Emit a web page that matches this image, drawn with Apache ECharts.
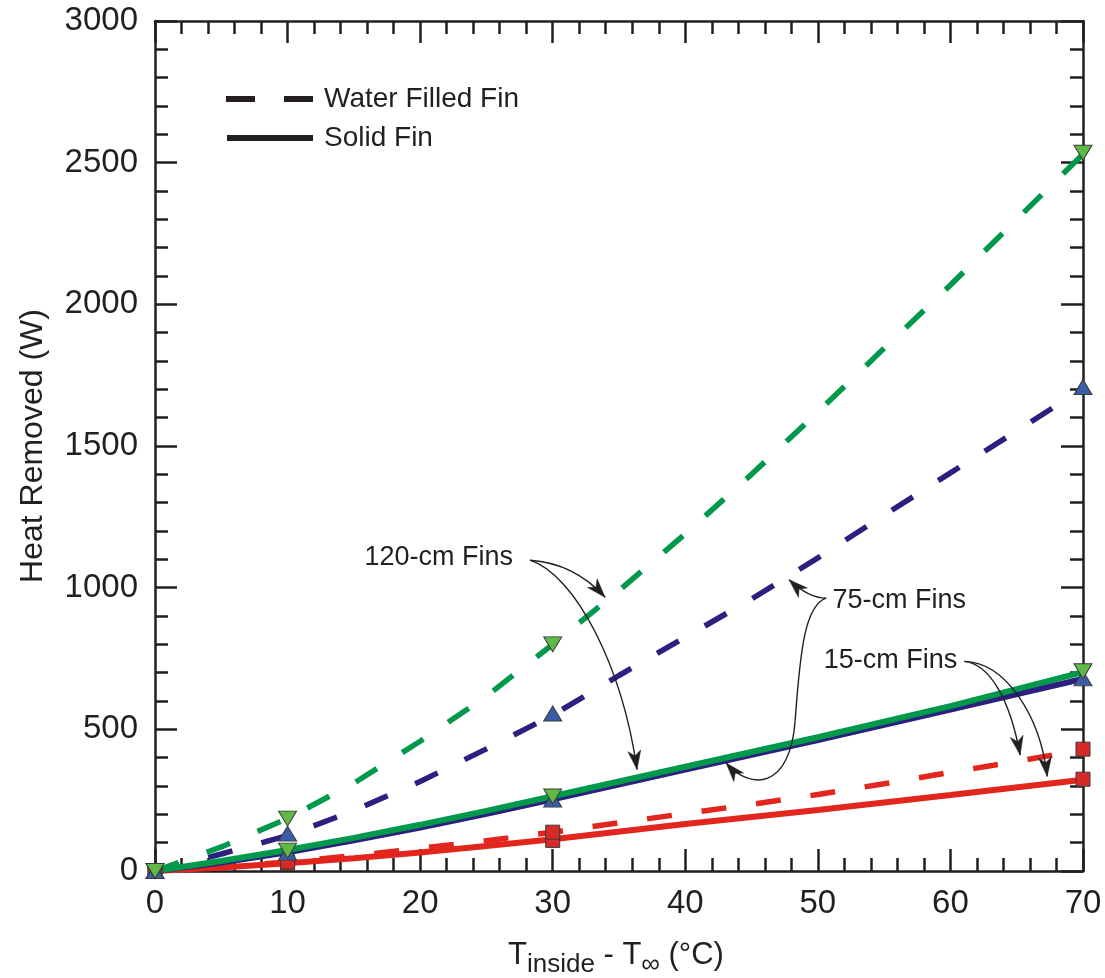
<!DOCTYPE html>
<html><head><meta charset="utf-8">
<script src="https://cdn.jsdelivr.net/npm/echarts@6/dist/echarts.min.js"></script>
<style>html,body{margin:0;padding:0;background:#fff}#c{width:1105px;height:978px}</style>
</head><body><div id="c"></div>
<script>
// ---- data ----
const tempX    = [0,5,10,15,20,25,30,35,40,45,50,55,60,65,70];
const water120 = [0,85,185,310,458,617,800,990,1190,1400,1620,1845,2068,2300,2530];
const water75  = [0,60,125,213,316,431,550,690,825,960,1105,1256,1405,1553,1703];
const water15  = [0,14,32,54,80,107,137,170,203,235,270,308,348,387,428];
const solidX   = [0,5,10,15,20,25,30,40,50,60,70];
const solid120 = [0,35,74,117,163,212,264,368,472,582,702];
const solid75  = [0,30,66,108,153,202,253,358,462,570,678];
const solid15  = [0,12,27,45,65,88,112,166,215,268,322];
const markerX   = [0,10,30,70];
const mWater120 = [0,185,800,2535];
const mWater75  = [0,132,556,1708];
const mWater15  = [0,32,137,430];
const mSolid120 = [0,72,263,705];
const mSolid75  = [0,65,252,680];
const mSolid15  = [0,27,108,324];
const legendLabels = ['Water Filled Fin','Solid Fin'];
const annoLabels = ['120-cm Fins','75-cm Fins','15-cm Fins'];

// ---- style ----
const FONT = '"Liberation Sans", Arial, Helvetica, sans-serif';
const INK = '#231f20';
const GREEN = '#00994c', NAVY = '#2b1f7f', RED = '#e2261d';
const GREEN_M = '#5fb946', BLUE_M = '#3b5ca6', RED_M = '#d62a28';
const DASH = [25, 30];

const pairs = (xs, ys) => xs.map((x, i) => [x, ys[i]]);
const plain = v => String(v);

function xAxisDef(pos, showLabel) {
  return {
    type: 'value', position: pos, min: 0, max: 70, interval: 10,
    axisLine: { onZero: false, lineStyle: { color: INK, width: 2.5 } },
    axisTick: { inside: true, length: 22, lineStyle: { color: INK, width: 2.5 } },
    minorTick: { show: true, splitNumber: 5, length: 13, lineStyle: { color: INK, width: 2.5 } },
    splitLine: { show: false }, minorSplitLine: { show: false },
    axisLabel: { show: showLabel, fontSize: 33, color: INK, fontFamily: FONT, margin: 16, formatter: plain }
  };
}
function yAxisDef(pos, showLabel) {
  const a = {
    type: 'value', position: pos, min: 0, max: 3000, interval: 500,
    axisLine: { onZero: false, lineStyle: { color: INK, width: 2.5 } },
    axisTick: { inside: true, length: 22, lineStyle: { color: INK, width: 2.5 } },
    minorTick: { show: true, splitNumber: 5, length: 13, lineStyle: { color: INK, width: 2.5 } },
    splitLine: { show: false }, minorSplitLine: { show: false },
    axisLabel: { show: showLabel, fontSize: 33, color: INK, fontFamily: FONT, margin: 17, formatter: plain }
  };
  if (showLabel) {
    a.name = 'Heat Removed (W)';
    a.nameLocation = 'middle';
    a.nameGap = 106;
    a.nameTextStyle = { fontSize: 32, color: INK, fontFamily: FONT };
  }
  return a;
}

function lineSeries(name, xs, ys, color, dashed, z) {
  return {
    type: 'line', name, data: pairs(xs, ys), showSymbol: false, symbol: 'none',
    z, animation: false, silent: true,
    lineStyle: { color, width: dashed ? 5.5 : 6, type: dashed ? DASH : 'solid', cap: 'butt' }
  };
}
function markerSeries(name, ys, symbol, rotate, size, fill, z) {
  return {
    type: 'scatter', name, data: pairs(markerX, ys), symbol, symbolRotate: rotate,
    symbolSize: size, z, animation: false, silent: true,
    itemStyle: { color: fill, borderColor: '#3a3a3a', borderWidth: 1, opacity: 1 }
  };
}

const chart = echarts.init(document.getElementById('c'), null, { renderer: 'canvas' });

const option = {
  backgroundColor: '#ffffff',
  animation: false,
  grid: { left: 155, right: 22, top: 21, bottom: 107, containLabel: false, outerBoundsMode: 'none' },
  xAxis: [xAxisDef('bottom', true), xAxisDef('top', false)],
  yAxis: [yAxisDef('left', true), yAxisDef('right', false)],
  series: [
    lineSeries('15 solid', solidX, solid15, RED, false, 2),
    lineSeries('15 water', tempX, water15, RED, true, 2),
    lineSeries('75 solid', solidX, solid75, NAVY, false, 2),
    lineSeries('120 solid', solidX, solid120, GREEN, false, 3),
    lineSeries('75 water', tempX, water75, NAVY, true, 2),
    lineSeries('120 water', tempX, water120, GREEN, true, 2),
    markerSeries('m15s', mSolid15, 'rect', 0, 14, RED_M, 5),
    markerSeries('m15w', mWater15, 'rect', 0, 14, RED_M, 5),
    markerSeries('m75s', mSolid75, 'triangle', 0, [18, 15], BLUE_M, 6),
    markerSeries('m75w', mWater75, 'triangle', 0, [18, 15], BLUE_M, 6),
    markerSeries('m120s', mSolid120, 'triangle', 180, [18, 15], GREEN_M, 7),
    markerSeries('m120w', mWater120, 'triangle', 180, [18, 15], GREEN_M, 7)
  ]
};
chart.setOption(option);

// ---- annotations, anchored in data coordinates ----
const annoTexts = [
  { text: annoLabels[0], at: [15.8, 1108] },
  { text: annoLabels[1], at: [51.1, 955] },
  { text: annoLabels[2], at: [50.45, 742] }
];
// cubic bezier curves: [start, cp1, cp2, end], arrow head at end if head
const annoCurves = [
  { pts: [[28.29,1097],[30.55,1090],[32.44,1044],[33.95,966]], head: true },
  { pts: [[28.29,1097],[31.69,1045],[35.23,726],[36.36,358]], head: true },
  { pts: [[50.63,963],[49.57,963],[48.67,991],[47.83,1028]], head: true },
  { pts: [[50.63,963],[49.04,938],[48.67,782],[48.29,532]], head: false },
  { pts: [[48.29,532],[47.91,285],[44.89,285],[43.08,381]], head: true },
  { pts: [[61.04,740],[63.0,730],[64.5,603],[65.26,409]], head: true },
  { pts: [[61.04,740],[64.13,737],[66.77,550],[67.30,334]], head: true }
];

const toPx = p => chart.convertToPixel({ seriesIndex: 0 }, p);

function arrowHead(tip, from, len, half) {
  const dx = tip[0] - from[0], dy = tip[1] - from[1];
  const d = Math.hypot(dx, dy) || 1;
  const ux = dx / d, uy = dy / d, nx = -uy, ny = ux;
  const bx = tip[0] - ux * len, by = tip[1] - uy * len;
  const notch = [tip[0] - ux * len * 0.72, tip[1] - uy * len * 0.72];
  return {
    type: 'polygon', z: 100,
    shape: { points: [tip, [bx + nx * half, by + ny * half], notch, [bx - nx * half, by - ny * half]] },
    style: { fill: INK, stroke: INK, lineWidth: 0.5 }
  };
}

const graphics = [];
annoCurves.forEach(c => {
  const p = c.pts.map(toPx);
  graphics.push({
    type: 'bezierCurve', z: 99,
    shape: { x1: p[0][0], y1: p[0][1], cpx1: p[1][0], cpy1: p[1][1], cpx2: p[2][0], cpy2: p[2][1], x2: p[3][0], y2: p[3][1] },
    style: { stroke: INK, lineWidth: 1.4, fill: 'none' }
  });
  if (c.head) graphics.push(arrowHead(p[3], p[2], 19, 6.5));
});
annoTexts.forEach(t => {
  const p = toPx(t.at);
  graphics.push({
    type: 'text', z: 101, x: p[0], y: p[1],
    style: { text: t.text, font: '27px ' + FONT, fill: INK, align: 'left', verticalAlign: 'middle' }
  });
});

// legend (inside plot, top-left)
graphics.push(
  { type: 'line', z: 100, shape: { x1: 226, y1: 99, x2: 255, y2: 99 }, style: { stroke: INK, lineWidth: 6 } },
  { type: 'line', z: 100, shape: { x1: 284, y1: 99, x2: 313, y2: 99 }, style: { stroke: INK, lineWidth: 6 } },
  { type: 'line', z: 100, shape: { x1: 227, y1: 138, x2: 313, y2: 138 }, style: { stroke: INK, lineWidth: 6 } },
  { type: 'text', z: 100, x: 324, y: 99, style: { text: legendLabels[0], font: '28px ' + FONT, fill: INK, align: 'left', verticalAlign: 'middle' } },
  { type: 'text', z: 100, x: 324, y: 138, style: { text: legendLabels[1], font: '28px ' + FONT, fill: INK, align: 'left', verticalAlign: 'middle' } }
);

// x axis title with subscripts
graphics.push({
  type: 'text', z: 100, x: 508, y: 940,
  style: {
    text: '{t|T}{s|inside}{t| - T}{s|\u221E}{t| (\u00B0C)}',
    fontFamily: FONT, fill: INK, align: 'left', verticalAlign: 'top',
    rich: {
      t: { fontSize: 31, fontFamily: FONT, fill: INK, lineHeight: 34, verticalAlign: 'top' },
      s: { fontSize: 26, fontFamily: FONT, fill: INK, lineHeight: 28, verticalAlign: 'top', padding: [12, 0, 0, 0] }
    }
  }
});

chart.setOption({ graphic: graphics });
</script>
</body></html>
